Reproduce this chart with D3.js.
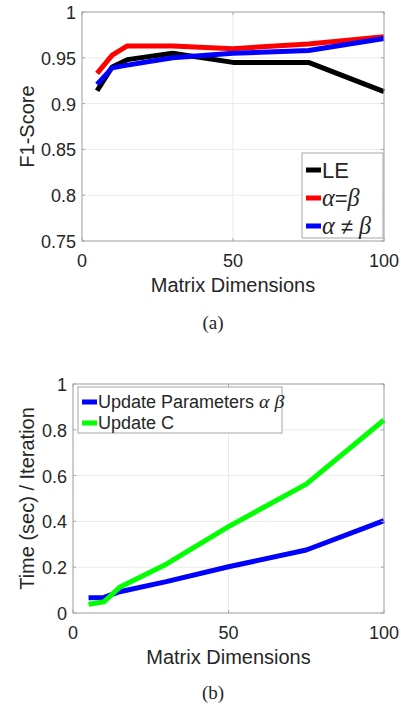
<!DOCTYPE html>
<html>
<head>
<meta charset="utf-8">
<script src="https://cdn.jsdelivr.net/npm/d3@7"></script>
<style>
  body { margin: 0; background: #fff; }
  text { font-family: "Liberation Sans", Arial, sans-serif; fill: #262626; }
</style>
</head>
<body>
<svg id="fig" width="401" height="709"></svg>
<script>
// matrix sizes used on both panels
var dims = [5, 10, 15, 30, 50, 75, 100];

// panel (a): F1-score
var f1LE = [0.914, 0.940, 0.948, 0.955, 0.945, 0.945, 0.913];
var f1Eq = [0.933, 0.953, 0.963, 0.963, 0.960, 0.965, 0.973];
var f1Neq = [0.921, 0.939, 0.942, 0.950, 0.955, 0.958, 0.971];
var f1Ticks = [0.75, 0.8, 0.85, 0.9, 0.95, 1];

// panel (b): time per iteration
var tParams = [0.067, 0.068, 0.093, 0.137, 0.202, 0.275, 0.403];
var tC = [0.038, 0.049, 0.112, 0.213, 0.377, 0.563, 0.843];
var tTicks = [0, 0.2, 0.4, 0.6, 0.8, 1];

var xTicks = [0, 50, 100];

var svg = d3.select("#fig");

function drawPanel(opt) {
    var x = d3.scaleLinear().domain([0, 100]).range([opt.left, opt.right]);
    var y = d3.scaleLinear().domain(opt.ydomain).range([opt.bottom, opt.top]);
    var g = svg.append("g");

    //grid
    g.selectAll(".gx").data(xTicks).enter().append("line")
        .attr("x1", x).attr("x2", x)
        .attr("y1", opt.top).attr("y2", opt.bottom)
        .attr("stroke", "#ebebeb");
    g.selectAll(".gy").data(opt.yticks).enter().append("line")
        .attr("y1", y).attr("y2", y)
        .attr("x1", opt.left).attr("x2", opt.right)
        .attr("stroke", "#ebebeb");

    //series
    var line = d3.line()
        .x(function (d, i) { return x(dims[i]); })
        .y(function (d) { return y(d); });
    opt.series.forEach(function (s) {
        g.append("path")
            .attr("d", line(s.values))
            .attr("fill", "none")
            .attr("stroke", s.color)
            .attr("stroke-width", 5)
            .attr("stroke-linejoin", "round");
    });

    //box
    g.append("rect")
        .attr("x", opt.left).attr("y", opt.top)
        .attr("width", opt.right - opt.left)
        .attr("height", opt.bottom - opt.top)
        .attr("fill", "none")
        .attr("stroke", "#a6a6a6");

    //ticks (inside)
    g.selectAll(".tx").data(xTicks).enter().append("path")
        .attr("d", function (d) {
            return "M" + x(d) + "," + opt.bottom + "v-3M" + x(d) + "," + opt.top + "v3";
        })
        .attr("stroke", "#a6a6a6");
    g.selectAll(".ty").data(opt.yticks).enter().append("path")
        .attr("d", function (d) {
            return "M" + opt.left + "," + y(d) + "h3M" + opt.right + "," + y(d) + "h-3";
        })
        .attr("stroke", "#a6a6a6");

    //tick labels
    g.selectAll(".lx").data(xTicks).enter().append("text")
        .attr("x", x).attr("y", opt.bottom + 26)
        .attr("text-anchor", "middle")
        .style("font-size", "18px")
        .text(function (d) { return d; });
    g.selectAll(".ly").data(opt.yticks).enter().append("text")
        .attr("x", opt.left - 6).attr("y", function (d) { return y(d) + 7; })
        .attr("text-anchor", "end")
        .style("font-size", "18px")
        .text(function (d) { return d; });

    //axis labels
    g.append("text")
        .attr("x", (opt.left + opt.right) / 2).attr("y", opt.bottom + 51)
        .attr("text-anchor", "middle")
        .style("font-size", "20px")
        .text("Matrix Dimensions");
    g.append("text")
        .attr("transform", "translate(" + opt.ylabelX + "," + (opt.top + opt.bottom) / 2 + ") rotate(-90)")
        .attr("text-anchor", "middle")
        .style("font-size", "20px")
        .text(opt.ylabel);

    //caption
    g.append("text")
        .attr("x", 213).attr("y", opt.captionY)
        .attr("text-anchor", "middle")
        .style("font-family", "'Liberation Serif', 'Times New Roman', serif")
        .style("font-size", "19px")
        .text(opt.caption);

    //legend
    var L = opt.legend;
    g.append("rect")
        .attr("x", L.x).attr("y", L.y)
        .attr("width", L.w).attr("height", L.h)
        .attr("fill", "#fff")
        .attr("stroke", "#a6a6a6");
    L.items.forEach(function (it, i) {
        var cy = L.y + L.first + i * L.step;
        g.append("line")
            .attr("x1", L.x + 4).attr("x2", L.x + 19)
            .attr("y1", cy).attr("y2", cy)
            .attr("stroke", it.color)
            .attr("stroke-width", 5);
        var t = g.append("text")
            .attr("x", L.x + 20).attr("y", cy + L.size * 0.36)
            .style("font-size", L.size + "px");
        it.parts.forEach(function (p) {
            var ts = t.append("tspan").text(p.t);
            if (p.math) {
                ts.style("font-family", "'Liberation Serif', 'Times New Roman', serif")
                  .style("font-style", "italic")
                  .style("font-size", (L.size * 1.1) + "px");
            }
        });
    });
}

drawPanel({
    left: 82, right: 384, top: 12, bottom: 241,
    ydomain: [0.75, 1], yticks: f1Ticks,
    ylabel: "F1-Score", ylabelX: 34,
    caption: "(a)", captionY: 329,
    series: [
        { values: f1LE, color: "#000000" },
        { values: f1Eq, color: "#ff0000" },
        { values: f1Neq, color: "#0000ff" }
    ],
    legend: {
        x: 302, y: 153, w: 81, h: 85, first: 17, step: 28, size: 22,
        items: [
            { color: "#000000", parts: [{ t: "LE" }] },
            { color: "#ff0000", parts: [{ t: "α", math: true }, { t: "=" }, { t: "β", math: true }] },
            { color: "#0000ff", parts: [{ t: "α", math: true }, { t: " ≠ " }, { t: "β", math: true }] }
        ]
    }
});

drawPanel({
    left: 73, right: 384, top: 384, bottom: 613,
    ydomain: [0, 1], yticks: tTicks,
    ylabel: "Time (sec) / Iteration", ylabelX: 34,
    caption: "(b)", captionY: 699,
    series: [
        { values: tParams, color: "#0000ff" },
        { values: tC, color: "#00ff00" }
    ],
    legend: {
        x: 78, y: 387, w: 204, h: 46, first: 15, step: 21, size: 18,
        items: [
            { color: "#0000ff", parts: [{ t: "Update Parameters " }, { t: "α β", math: true }] },
            { color: "#00ff00", parts: [{ t: "Update C" }] }
        ]
    }
});
</script>
</body>
</html>
